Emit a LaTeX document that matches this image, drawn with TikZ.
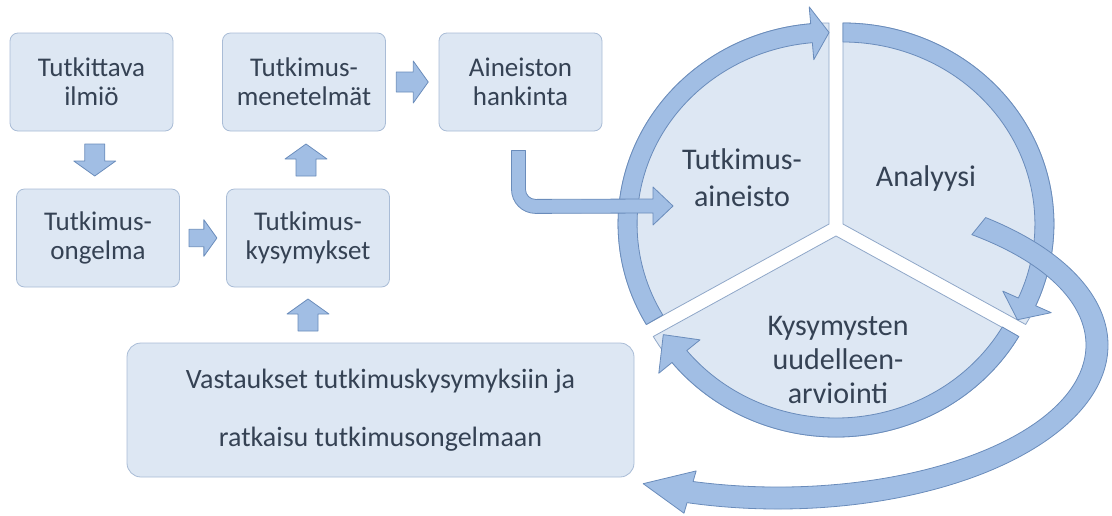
\documentclass[tikz,border=0pt]{standalone}
\usepackage{fontspec}
\setmainfont{Carlito}
\usetikzlibrary{positioning,calc}

\definecolor{boxfill}{HTML}{DDE7F3}
\definecolor{boxline}{HTML}{A9BCD6}
\definecolor{sectorline}{HTML}{8FA7C8}
\definecolor{arrowfill}{HTML}{A1BEE4}
\definecolor{arrowline}{HTML}{6A8CBB}
\definecolor{textcol}{HTML}{354254}

\tikzset{
    blockarrow/.pic={
        \draw[arrowpart] (-16,-10) -- (1,-10) -- (1,-21) -- (16,0) -- (1,21) -- (1,10) -- (-16,10) -- cycle;
    }
}

\begin{document}
\begin{tikzpicture}[
    x=1pt, y=1pt,
    line join=round,
    stagebox/.style={
        draw=boxline,
        fill=boxfill,
        rounded corners=8pt,
        line width=0.8pt,
        minimum width=163pt,
        minimum height=98pt,
        align=center,
        text=textcol,
        font=\fontsize{27}{29}\selectfont
    },
    answerbox/.style={
        draw=boxline,
        fill=boxfill,
        rounded corners=14pt,
        line width=0.8pt,
        minimum width=507pt,
        minimum height=134pt,
        align=center,
        text=textcol,
        font=\fontsize{28}{58}\selectfont
    },
    sector/.style={draw=sectorline, fill=boxfill, line width=0.8pt},
    arrowpart/.style={draw=arrowline, fill=arrowfill, line width=0.8pt},
    cycletext/.style={align=center, text=textcol, font=\fontsize{30}{37}\selectfont}
]
\useasboundingbox (0,0) rectangle (1112,-515);

\node[stagebox] (ilmio) at (91.5,-82) {Tutkittava\\ilmiö};
\node[stagebox] (menetelmat) at (304,-82) {Tutkimus-\\menetelmät};
\node[stagebox] (hankinta) at (520.5,-82) {Aineiston\\hankinta};
\node[stagebox] (ongelma) at (98,-238) {Tutkimus-\\ongelma};
\node[stagebox] (kysymykset) at (308,-238) {Tutkimus-\\kysymykset};
\node[answerbox] (vastaus) at (380.5,-410) {Vastaukset tutkimuskysymyksiin ja\\ratkaisu tutkimusongelmaan};

% Block arrows between the boxes.
\pic[rotate=-90] at ($(ilmio.south)!0.5!(ongelma.north)$) {blockarrow};
\pic[scale=0.87] at ($(ongelma.east)!0.5!(kysymykset.west)$) {blockarrow};
\pic[rotate=90] at ($(kysymykset.north)!0.5!(menetelmat.south)$) {blockarrow};
\pic at ($(menetelmat.east)!0.5!(hankinta.west)$) {blockarrow};
\pic[rotate=90] at ($(kysymykset.south)!0.5!(kysymykset.south |- vastaus.north)$) {blockarrow};

% Cycle.
\coordinate (hub) at (836,-228);
\coordinate (lc) at ($(hub)+(150:8)$);
\coordinate (rc) at ($(hub)+(30:8)$);
\coordinate (bc) at ($(hub)+(270:8)$);

\draw[sector] (lc) -- ++(0,201) arc[start angle=90, end angle=210, x radius=211pt, y radius=201pt] -- cycle;
\draw[sector] (rc) -- ++(0,201) arc[start angle=90, end angle=-30, x radius=211pt, y radius=201pt] -- cycle;
\draw[sector] (bc) -- ++(210:211pt and 201pt) arc[start angle=210, end angle=330, x radius=211pt, y radius=201pt] -- cycle;

\draw[arrowpart] ($(lc)+(210:211pt and 201pt)$) arc[start angle=210, end angle=95, x radius=211pt, y radius=201pt]
    -- ($(lc)+(95:228pt and 218pt)$) -- ($(lc)+(90:201.5pt and 191.5pt)$) -- ($(lc)+(95:175pt and 165pt)$)
    -- ($(lc)+(95:192pt and 182pt)$) arc[start angle=95, end angle=210, x radius=192pt, y radius=182pt] -- cycle;
\draw[arrowpart] ($(rc)+(90:211pt and 201pt)$) arc[start angle=90, end angle=-24, x radius=211pt, y radius=201pt]
    -- ($(rc)+(-24:228pt and 218pt)$) -- ($(rc)+(-30:201.5pt and 191.5pt)$) -- ($(rc)+(-24:175pt and 165pt)$)
    -- ($(rc)+(-24:192pt and 182pt)$) arc[start angle=-24, end angle=90, x radius=192pt, y radius=182pt] -- cycle;
\draw[arrowpart] ($(bc)+(330:211pt and 201pt)$) arc[start angle=330, end angle=219, x radius=211pt, y radius=201pt]
    -- ($(bc)+(219:228pt and 218pt)$) -- ($(bc)+(211:201.5pt and 191.5pt)$) -- ($(bc)+(219:175pt and 165pt)$)
    -- ($(bc)+(219:192pt and 182pt)$) arc[start angle=219, end angle=330, x radius=192pt, y radius=182pt] -- cycle;

\node[cycletext] (aineisto) at (742,-178) {Tutkimus-\\aineisto};
\node[cycletext] (analyysi) at (926,-178) {Analyysi};
\node[cycletext, font=\fontsize{30}{34}\selectfont] (arviointi) at (838,-360) {Kysymysten\\uudelleen-\\arviointi};

% Into the cycle.
\coordinate (drop) at ($(hankinta.south)+(-2,-19)$);
\coordinate (entry) at (673,-206);
\draw[arrowpart] ($(drop)+(-7,0)$) -- ($(drop)+(7,0)$) -- ($(drop)+(7,-39)$) arc[start angle=180, end angle=270, radius=10pt]
    -- ($(entry)+(-20,7)$) -- ($(entry)+(-20,19)$) -- (entry) -- ($(entry)+(-20,-19)$) -- ($(entry)+(-20,-7)$)
    -- ($(drop)+(17,-63)$) arc[start angle=270, end angle=180, radius=24pt] -- cycle;

% Back to the answers.
\coordinate (loopc) at (778,-345);
\draw[arrowpart] ($(loopc)+(51:330pt and 164pt)$) arc[start angle=51, end angle=-106, x radius=330pt, y radius=164pt]
    -- ($(loopc)+(-106:341pt and 175pt)$) -- ($(loopc)+(-115:319pt and 153pt)$) -- ($(loopc)+(-106:297pt and 131pt)$)
    -- ($(loopc)+(-106:308pt and 142pt)$) arc[start angle=-106, end angle=51, x radius=308pt, y radius=142pt] -- cycle;

\end{tikzpicture}
\end{document}
